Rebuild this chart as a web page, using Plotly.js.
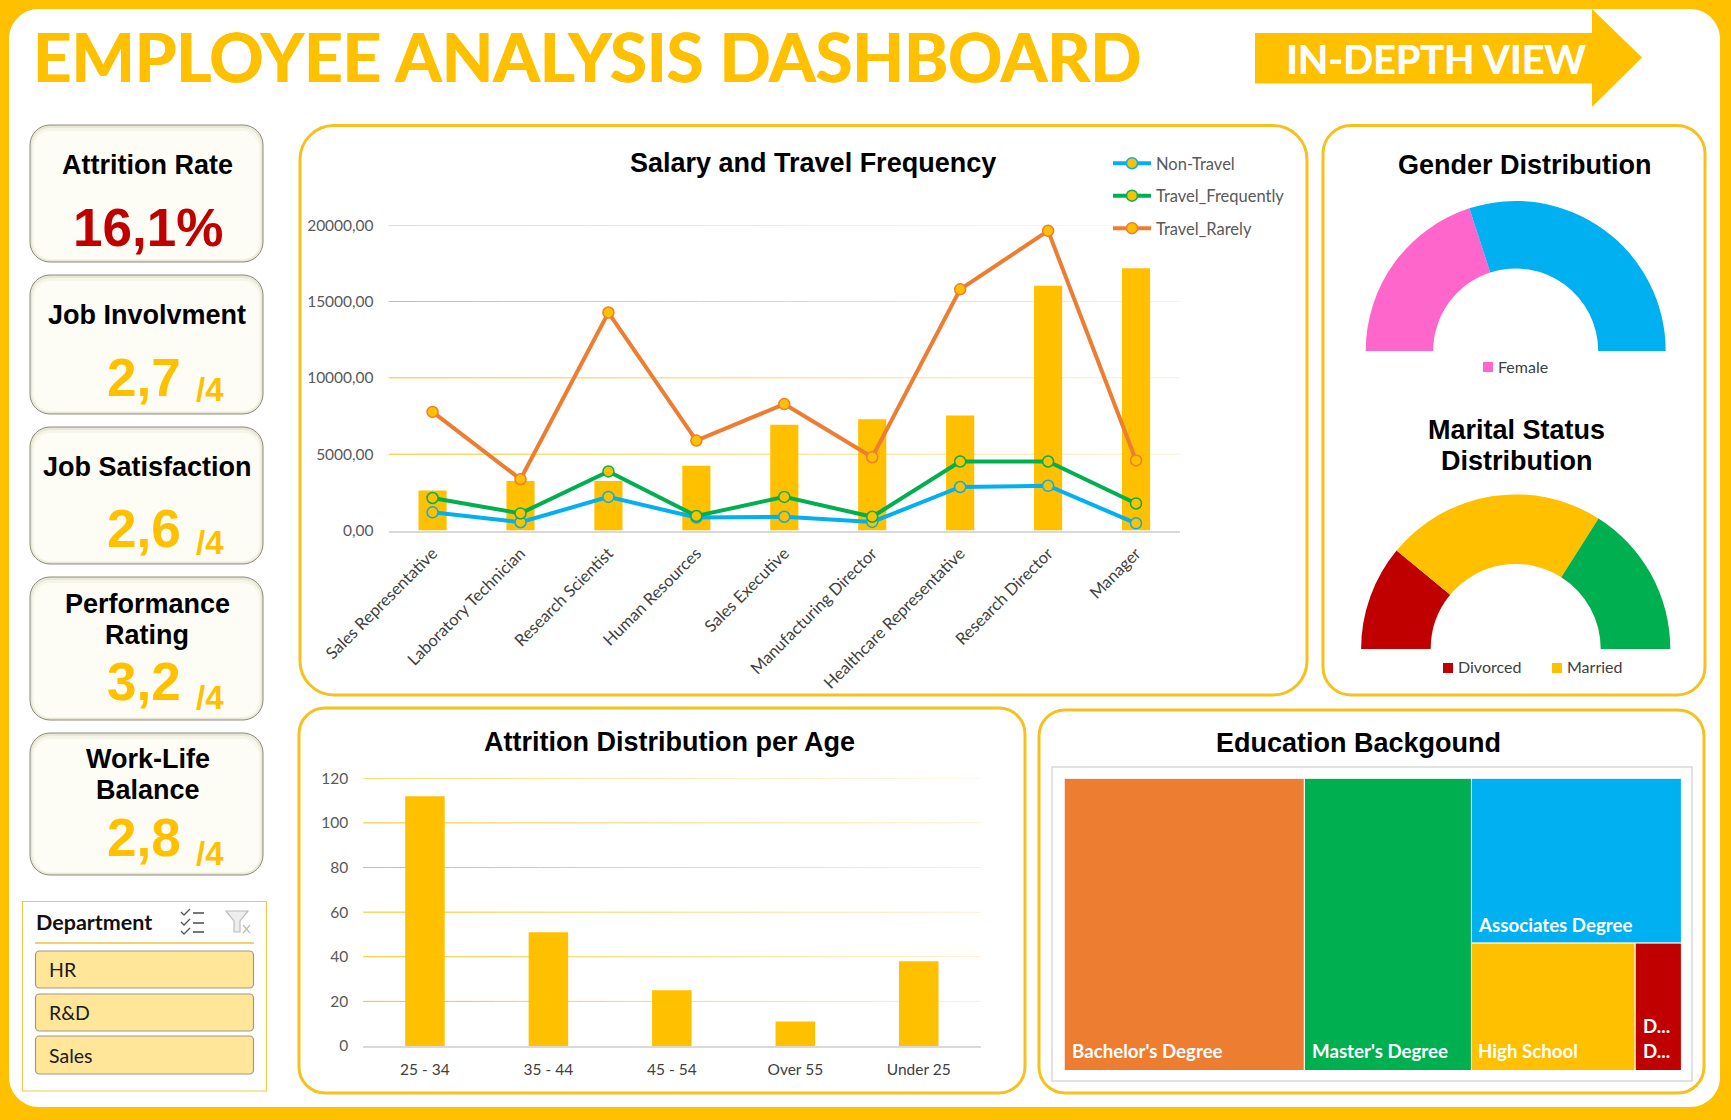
<!DOCTYPE html>
<html>
<head>
<meta charset="utf-8">
<script src="https://cdn.plot.ly/plotly-3.0.1.min.js"></script>
<style>html,body{margin:0;padding:0;background:#FFC000;overflow:hidden}#chart{width:1731px;height:1120px}</style>
</head>
<body>
<div id="chart"></div>
<script>
// ---------- data ----------
const jobRoles = ['Sales Representative','Laboratory Technician','Research Scientist','Human Resources','Sales Executive','Manufacturing Director','Healthcare Representative','Research Director','Manager'];
const avgSalary = [2626,3237,3240,4236,6924,7295,7529,16033,17182];
const nonTravel = [1190,540,2200,850,900,560,2850,2930,470];
const travelFrequently = [2130,1120,3870,950,2200,900,4520,4520,1770];
const travelRarely = [7770,3360,14280,5890,8280,4800,15800,19630,4590];
const ageGroups = ['25 - 34','35 - 44','45 - 54','Over 55','Under 25'];
const ageAttrition = [112,51,25,11,38];
const genderLabels = ['Female','Male'];
const genderShare = [40,60];
const maritalLabels = ['Divorced','Married','Single'];
const maritalShare = [22,46,32];
const educationLabels = ["Bachelor's Degree","Master's Degree",'Associates Degree','High School',"Doctor's Degree"];
const educationCounts = [572,398,282,170,48];
const departments = ['HR','R&D','Sales'];

// ---------- helpers ----------
const W = 1731, H = 1120;
const GOLD = '#FFC000', FRAME = '#F6C11F';
const SANS = 'Liberation Sans, Arial, sans-serif', BODY = 'Lato, sans-serif';
const px = x => x / W, py = y => 1 - y / H;
const fmt = (x, y) => px(x).toFixed(5) + ',' + py(y).toFixed(5);
function rrPath(x0, y0, x1, y1, r) {
  const k = r * 0.448;
  return 'M' + fmt(x0 + r, y0) + 'L' + fmt(x1 - r, y0) +
    'C' + fmt(x1 - k, y0) + ' ' + fmt(x1, y0 + k) + ' ' + fmt(x1, y0 + r) +
    'L' + fmt(x1, y1 - r) +
    'C' + fmt(x1, y1 - k) + ' ' + fmt(x1 - k, y1) + ' ' + fmt(x1 - r, y1) +
    'L' + fmt(x0 + r, y1) +
    'C' + fmt(x0 + k, y1) + ' ' + fmt(x0, y1 - k) + ' ' + fmt(x0, y1 - r) +
    'L' + fmt(x0, y0 + r) +
    'C' + fmt(x0, y0 + k) + ' ' + fmt(x0 + k, y0) + ' ' + fmt(x0 + r, y0) + 'Z';
}
const shapes = [], annotations = [];
function rr(x0, y0, x1, y1, r, fill, line, lw) {
  shapes.push({type:'path', xref:'paper', yref:'paper', layer:'below', path:rrPath(x0,y0,x1,y1,r),
    fillcolor:fill || 'rgba(0,0,0,0)', line:{color:line || 'rgba(0,0,0,0)', width:lw || 0}});
}
function poly(points, fill, line, lw, closed) {
  const d = points.map((p, i) => (i ? 'L' : 'M') + fmt(p[0], p[1])).join('') + (closed ? 'Z' : '');
  shapes.push({type:'path', xref:'paper', yref:'paper', layer:'below', path:d,
    fillcolor:fill || 'rgba(0,0,0,0)', line:{color:line || 'rgba(0,0,0,0)', width:lw || 0}});
}
function label(text, x, y, size, color, family, anchor, bold, shadow) {
  const font = {size:size, color:color, family:family};
  if (shadow) font.shadow = shadow;
  annotations.push({xref:'paper', yref:'paper', x:px(x), y:py(y), showarrow:false,
    text:bold ? '<b>' + text + '</b>' : text, xanchor:anchor || 'center', yanchor:'middle',
    borderpad:0, font:font});
}
function fadeGrid(xa, ya, ticks) {
  const N = 28;
  ticks.forEach(t => {
    for (let i = 0; i < N; i++) {
      const f = i / (N - 1);
      const g = Math.round(196 + 48 * f), b = Math.round(28 + 200 * f);
      shapes.push({type:'line', layer:'below', xref:xa + ' domain', yref:ya, x0:i / N, x1:(i + 1) / N, y0:t, y1:t,
        line:{color:'rgb(' + Math.round(244 + 10 * f) + ',' + g + ',' + b + ')', width:1}});
    }
  });
}

// ---------- page furniture ----------
rr(9, 9, 1720, 1107, 30, '#FFFFFF');
poly([[1255,33],[1592,33],[1592,9],[1642,57.5],[1592,107],[1592,83.5],[1255,83.5]], GOLD, null, 0, true);

// KPI cards
const cards = [[125,262],[275,414],[427,564],[577,720],[733,875]];
cards.forEach(c => {
  rr(30, c[0], 263, c[1], 20, '#E9E7D8', '#8C8C7C', 1);
  rr(32, c[0] + 3, 261, c[1] - 2, 18, '#F6F5E9');
  rr(34, c[0] + 6, 259, c[1] - 3, 16, '#FDFCF5');
});

// chart frames
rr(300, 125.5, 1307, 695, 34, '#FFFFFF', FRAME, 3);
rr(1323, 125.5, 1705, 695, 28, '#FFFFFF', FRAME, 3);
rr(299, 708, 1025, 1093, 26, '#FFFFFF', FRAME, 3);
rr(1039, 710, 1704, 1093, 26, '#FFFFFF', FRAME, 3);
shapes.push({type:'rect', xref:'paper', yref:'paper', layer:'below', x0:px(1052), x1:px(1692), y0:py(1081), y1:py(767),
  fillcolor:'#FFFFFF', line:{color:'#D9D9D9', width:1.5}});

// department slicer
shapes.push({type:'rect', xref:'paper', yref:'paper', layer:'below', x0:px(22.5), x1:px(266.5), y0:py(1091), y1:py(901.5),
  fillcolor:'#FFFFFF', line:{color:'#F2C94C', width:1.2}});
poly([[35,943],[254,943]], null, '#EEC33C', 1.5);
[[951,988],[994,1031],[1036,1074]].forEach((b, i) => {
  rr(35.5, b[0], 253.5, b[1], 4, '#FFE699', '#A09A84', 1.2);
  label(departments[i], 47.5, (b[0] + b[1]) / 2, 19.5, '#1A1A1A', BODY, 'left');
});
label('Department', 35, 922, 21.5, '#111111', BODY, 'left', true);
[912, 922, 931].forEach(y => {
  poly([[181,y],[184,y + 3],[190,y - 3]], null, '#555555', 1.3);
  poly([[193,y + 1],[204,y + 1]], null, '#555555', 1.6);
});
poly([[226,911],[248,911],[240,921],[240,932],[234,932],[234,921]], '#EDEDED', '#BDBDBD', 1.2, true);
poly([[243,925],[250,933]], null, '#BDBDBD', 1.2);
poly([[250,925],[243,933]], null, '#BDBDBD', 1.2);

// gauge legends
[[1483,362,'Female','#FF66CC',1496.5,366.5],[1443,663,'Divorced','#C00000',1456.5,666.5],[1552,663,'Married',GOLD,1565.5,666.5]].forEach(l => {
  shapes.push({type:'rect', xref:'paper', yref:'paper', layer:'below', x0:px(l[0]), x1:px(l[0] + 10), y0:py(l[1] + 10), y1:py(l[1]),
    fillcolor:l[3], line:{width:0}});
  label(l[2], l[4], l[5], 16, '#404040', BODY, 'left');
});

// ---------- text ----------
label('EMPLOYEE ANALYSIS DASHBOARD', 32, 56, 67, GOLD, BODY, 'left', true, '0.6px 0 0 #FFC000, -0.6px 0 0 #FFC000');
label('IN-DEPTH VIEW', 1436, 58.5, 39.5, '#FFFFFF', BODY, 'center', true, '0.4px 0 0 #FFFFFF');

label('Attrition Rate', 147, 165, 27, '#000000', SANS, 'center', true);
label('16,1%', 148, 227, 53, '#C00000', SANS, 'center', true);
label('Job Involvment', 147, 315, 27, '#000000', SANS, 'center', true);
label('Job Satisfaction', 147, 466.5, 27, '#000000', SANS, 'center', true);
label('Performance', 147, 604, 27, '#000000', SANS, 'center', true);
label('Rating', 147, 635, 27, '#000000', SANS, 'center', true);
label('Work-Life', 148, 759, 27, '#000000', SANS, 'center', true);
label('Balance', 148, 790, 27, '#000000', SANS, 'center', true);
[['2,7',377,389],['2,6',528,542],['3,2',681,697],['2,8',837,853]].forEach(k => {
  label(k[0], 143.5, k[1], 53, GOLD, SANS, 'center', true);
  label('/4', 210, k[2], 33, GOLD, SANS, 'center', true);
});

label('Salary and Travel Frequency', 812.5, 163, 27, '#000000', SANS, 'center', true);
label('Gender Distribution', 1524.5, 165.5, 27, '#000000', SANS, 'center', true);
label('Marital Status', 1516, 429.5, 27, '#000000', SANS, 'center', true);
label('Distribution', 1516, 460.5, 27, '#000000', SANS, 'center', true);
label('Attrition Distribution per Age', 669, 742, 27, '#000000', SANS, 'center', true);
label('Education Backgound', 1358, 743, 27, '#000000', SANS, 'center', true);

// treemap tile captions
const TM = 18.7;
[[educationLabels[0],1071,1051],[educationLabels[1],1311,1051],[educationLabels[2],1477,924.5],[educationLabels[3],1477,1051],
 ['D...',1641.5,1026],['D...',1641.5,1051]].forEach(t => label(t[0], t[1], t[2], TM, '#FFFFFF', BODY, 'left', true));

// ---------- gridlines fading to the right ----------
const salaryTicks = [5000,10000,15000,20000];
const ageTicks = [20,40,60,80,100,120];
fadeGrid('x', 'y', salaryTicks);
fadeGrid('x2', 'y2', ageTicks);

// ---------- traces ----------
const lineTrace = (name, values, color) => ({
  type:'scatter', mode:'lines+markers', name:name, legendgroup:name, x:jobRoles, y:values, xaxis:'x', yaxis:'y',
  line:{color:color, width:4}, marker:{size:11, color:GOLD, line:{color:color, width:1.5}}, cliponaxis:false
});
const halfDonut = (labels, values, colors, cx, cy, R) => ({
  type:'pie', labels:labels.concat(['']), values:values.concat([values.reduce((a, b) => a + b, 0)]),
  marker:{colors:colors.concat(['rgba(0,0,0,0)']), line:{width:0}},
  hole:0.55, sort:false, direction:'clockwise', rotation:270, textinfo:'none', showlegend:false, hoverinfo:'label+percent',
  domain:{x:[px(cx - R), px(cx + R)], y:[py(cy + R), py(cy - R)]}
});
const traces = [
  {type:'bar', x:jobRoles, y:avgSalary, xaxis:'x', yaxis:'y', marker:{color:GOLD}, width:0.32, showlegend:false, name:'Average salary'},
  lineTrace('Non-Travel', nonTravel, '#00B0F0'),
  lineTrace('Travel_Frequently', travelFrequently, '#00B050'),
  lineTrace('Travel_Rarely', travelRarely, '#ED7D31'),
  {type:'bar', x:ageGroups, y:ageAttrition, xaxis:'x2', yaxis:'y2', marker:{color:GOLD}, width:0.32, showlegend:false, name:'Attrition'},
  halfDonut(genderLabels, genderShare, ['#FF66CC','#00B0F0'], 1515.7, 351, 150),
  halfDonut(maritalLabels, maritalShare, ['#C00000',GOLD,'#00B050'], 1515.7, 649, 154.6),
  {type:'treemap', labels:educationLabels, parents:educationLabels.map(() => ''), values:educationCounts,
   textinfo:'none', sort:true,
   marker:{colors:['#ED7D31','#00B050','#00B0F0',GOLD,'#C00000'], line:{color:'#FFFFFF', width:1}, pad:{t:0,l:0,r:0,b:0}},
   pathbar:{visible:false}, tiling:{packing:'squarify', pad:0},
   domain:{x:[px(1064.2), px(1681.4)], y:[py(1070.5), py(778.3)]}}
];

const layout = {
  width:W, height:H, autosize:false, margin:{l:0,r:0,t:0,b:0,pad:0},
  paper_bgcolor:GOLD, plot_bgcolor:'rgba(0,0,0,0)', separators:',.',
  showlegend:true, bargap:0.68, hovermode:'closest',
  font:{family:BODY, color:'#595959'},
  legend:{x:px(1108), y:py(146), xanchor:'left', yanchor:'top', bgcolor:'rgba(0,0,0,0)', borderwidth:0,
    traceorder:'grouped', tracegroupgap:8, itemwidth:38, itemclick:false, font:{family:BODY, size:16.5, color:'#595959'}},
  xaxis:{domain:[px(388.6), px(1180)], type:'category', categoryorder:'array', categoryarray:jobRoles, range:[-0.5,8.5], autorange:false,
    anchor:'y', showgrid:false, showline:true, linecolor:'#D9D9D9', linewidth:1.5, ticks:'', tickangle:-45, ticklabelstandoff:5,
    tickfont:{family:BODY, size:16.5, color:'#404040'}, automargin:false, fixedrange:true, zeroline:false},
  yaxis:{domain:[py(530.5), py(225.2)], range:[0,20000], autorange:false, anchor:'x', tickvals:[0].concat(salaryTicks), tickformat:'.2f',
    showgrid:true, gridcolor:'rgba(255,192,0,0.08)', zeroline:false, showline:false, ticks:'', ticklabelstandoff:14,
    tickfont:{family:BODY, size:15.5, color:'#595959'}, automargin:false, fixedrange:true},
  xaxis2:{domain:[px(363.2), px(980.5)], type:'category', categoryorder:'array', categoryarray:ageGroups, range:[-0.5,4.5], autorange:false,
    anchor:'y2', showgrid:false, showline:true, linecolor:'#D9D9D9', linewidth:1.5, ticks:'', ticklabelstandoff:9,
    tickfont:{family:BODY, size:15.5, color:'#404040'}, automargin:false, fixedrange:true, zeroline:false},
  yaxis2:{domain:[py(1046), py(778.3)], range:[0,120], autorange:false, anchor:'x2', tickvals:[0].concat(ageTicks),
    showgrid:true, gridcolor:'rgba(255,192,0,0.08)', zeroline:false, showline:false, ticks:'', ticklabelstandoff:14,
    tickfont:{family:BODY, size:15.5, color:'#595959'}, automargin:false, fixedrange:true},
  shapes:shapes, annotations:annotations
};
Plotly.newPlot('chart', traces, layout, {displayModeBar:false, responsive:false});
</script>
</body>
</html>
